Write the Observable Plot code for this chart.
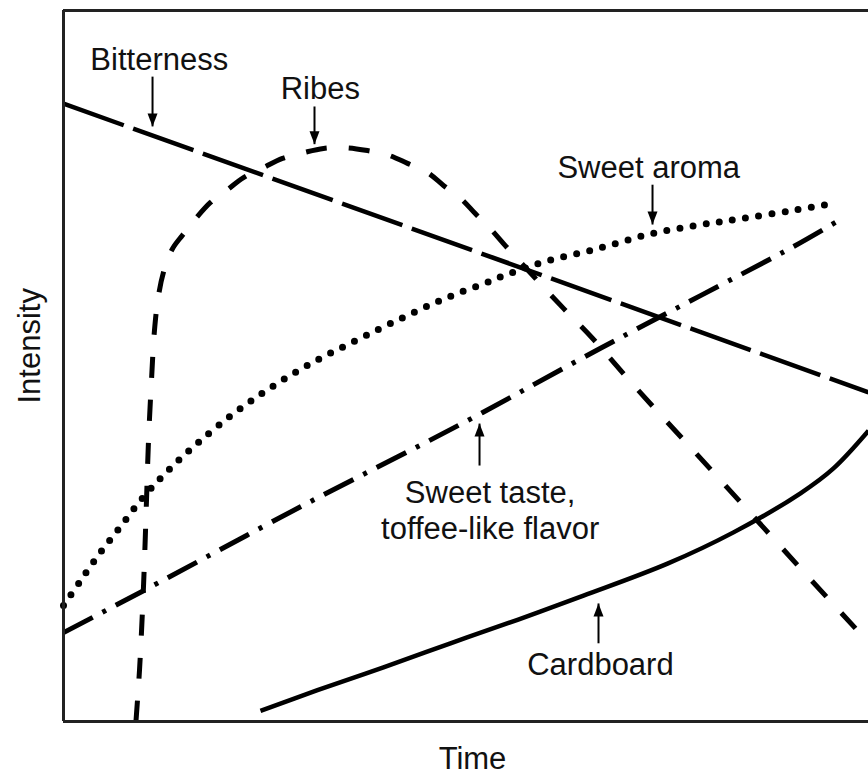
<!DOCTYPE html>
<html><head><meta charset="utf-8">
<script src="https://cdn.jsdelivr.net/npm/d3@7"></script>
<script src="https://cdn.jsdelivr.net/npm/@observablehq/plot@0.6"></script>
<style>body{margin:0;background:#fff}</style>
</head><body><div id="chart"></div>
<script>
// Values: [time, intensity] on a 0–100 scale
const bitterness = [[0, 86.9], [100, 46.3]];
const ribes = [[9.0, 0], [9.44, 7.2], [9.81, 15.6], [10.06, 22.6], [10.31, 31.1], [10.56, 39.5], [10.93, 48.0],
  [11.3, 55.0], [11.8, 59.9], [12.55, 63.7], [13.54, 66.5], [14.78, 68.4], [16.4, 70.7], [18.26, 73.0],
  [20.37, 74.8], [22.36, 76.5], [24.84, 77.9], [27.2, 79.2], [29.81, 80.0], [32.3, 80.6], [35.03, 80.7],
  [37.76, 80.3], [40.25, 79.7], [42.73, 78.5], [45.22, 77.2], [47.2, 75.4], [49.32, 73.6], [51.18, 71.4],
  [53.04, 69.3], [54.91, 66.9], [56.77, 64.6], [62.11, 58.1], [65.71, 53.9], [71.06, 47.0], [78.26, 38.1],
  [85.34, 29.3], [92.55, 20.3], [100, 11.1]];
const sweetAroma = [[0, 16.3], [2.11, 19.8], [4.6, 23.8], [7.08, 27.4], [9.57, 31.1], [12.05, 34.2],
  [14.53, 37.0], [17.02, 39.5], [20.75, 43.0], [24.47, 46.0], [28.2, 48.7], [31.93, 51.1], [35.65, 53.2],
  [39.38, 55.3], [42.73, 57.1], [45.96, 58.8], [48.94, 60.2], [52.05, 61.5], [55.16, 62.9], [59.88, 64.7],
  [66.34, 66.5], [72.67, 68.5], [78.76, 69.8], [84.1, 70.7], [90.68, 71.9], [95.9, 72.9]];
const sweetTaste = [[0, 12.5], [9.94, 18.4], [29.44, 30.2], [49.32, 41.8], [66.71, 52.5], [79.13, 59.9],
  [90.68, 66.8], [95.9, 70.2]];
const cardboard = [[24.47, 1.5], [31.55, 4.4], [39.75, 7.6], [48.07, 11.0], [56.4, 14.3], [64.6, 17.7],
  [75.03, 22.2], [83.23, 26.6], [91.55, 32.1], [95.65, 35.6], [100, 40.9]];

// Annotations
const labelText = ["Bitterness", "Ribes", "Sweet aroma", "Sweet taste,\ntoffee-like flavor", "Cardboard"];
const labelX = [11.9, 31.9, 72.7, 53.0, 66.7];
const labelY = [91.6, 87.6, 76.5, 25.7, 6.5];
const arrowX = [11.06, 31.18, 73.17, 51.68, 66.46];
const arrowFrom = [90.7, 86.5, 75.5, 36.0, 11.0];
const arrowTo = [83.7, 81.2, 69.9, 41.9, 16.6];
const axisLabels = {x: "Time", y: "Intensity"};

const labels = labelText.map((t, i) => ({t, x: labelX[i], y: labelY[i]}));
const arrows = arrowX.map((x, i) => ({x, y1: arrowFrom[i], y2: arrowTo[i]}));
const headDown = {draw(c) { c.moveTo(0, 0); c.lineTo(-5, -13); c.lineTo(5, -13); c.closePath(); }};
const headUp = {draw(c) { c.moveTo(0, 0); c.lineTo(-5, 13); c.lineTo(5, 13); c.closePath(); }};

const curve = (data, opts) => Plot.line(data, {x: d => d[0], y: d => d[1], curve: "catmull-rom",
  stroke: "#000", strokeWidth: 4.5, strokeLinecap: "butt", ...opts});

const chart = Plot.plot({
  width: 868, height: 775,
  marginLeft: 63, marginRight: 0, marginTop: 10, marginBottom: 54,
  x: {domain: [0, 100], axis: null},
  y: {domain: [0, 100], axis: null},
  style: {fontFamily: "'Liberation Sans', Arial, sans-serif", fontSize: "31px", background: "#fff", color: "#000"},
  marks: [
    curve(bitterness, {strokeDasharray: "64,10"}),
    curve(ribes, {strokeDasharray: "21,22", strokeWidth: 5}),
    curve(sweetAroma, {strokeDasharray: "0,13.3", strokeLinecap: "round", strokeWidth: 7}),
    curve(sweetTaste, {strokeDasharray: "33,11,4,11", strokeWidth: 5}),
    curve(cardboard, {strokeWidth: 4.5}),
    Plot.ruleY([0, 100], {stroke: "#222", strokeWidth: 3}),
    Plot.ruleX([0], {stroke: "#222", strokeWidth: 3}),
    Plot.link(arrows, {x1: "x", x2: "x", y1: "y1", y2: "y2", stroke: "#000", strokeWidth: 2}),
    Plot.dot(arrows.filter(d => d.y2 < d.y1), {x: "x", y: "y2", symbol: headDown, fill: "#000", stroke: "none"}),
    Plot.dot(arrows.filter(d => d.y2 > d.y1), {x: "x", y: "y2", symbol: headUp, fill: "#000", stroke: "none"}),
    Plot.text(labels, {x: "x", y: "y", text: "t", textAnchor: "middle", lineAnchor: "bottom", lineHeight: 1.16, fill: "#111", fontSize: 31}),
    Plot.text([axisLabels.x], {frameAnchor: "bottom", dx: 6.5, dy: 47, lineAnchor: "bottom", fill: "#111", fontSize: 31}),
    Plot.text([axisLabels.y], {frameAnchor: "left", rotate: -90, dx: -24, dy: 37.5, lineAnchor: "bottom", fill: "#111", fontSize: 31})
  ]
});
document.getElementById("chart").append(chart);
</script>
</body></html>
